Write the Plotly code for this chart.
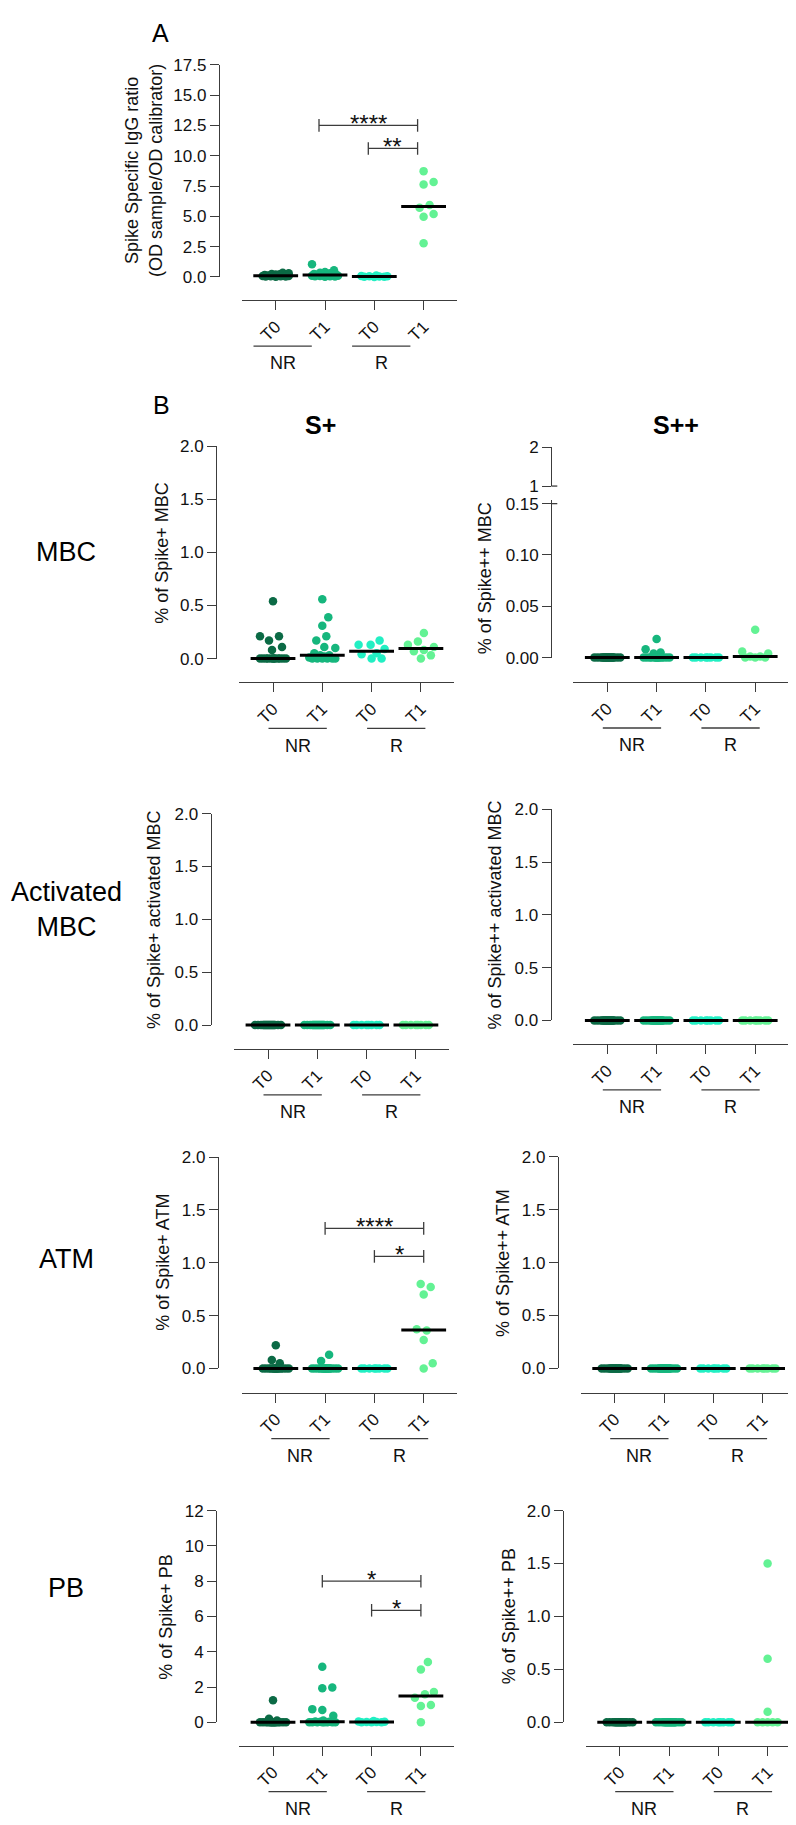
import numpy as np
import plotly.graph_objects as go

# ---------------------------------------------------------------- data
group_names = ["NR T0", "NR T1", "R T0", "R T1"]
x_tick_labels = ["T0", "T1", "T0", "T1"]
cohort_labels = ["NR", "R"]
row_labels = ["MBC", "Activated<br>MBC", "ATM", "PB"]
column_titles = ["S+", "S++"]

# Panel A : Spike specific IgG ratio
igg_nr_t0 = [0.35, 0.30, 0.25, 0.22, 0.20, 0.17, 0.15, 0.12, 0.10, 0.10, 0.09, 0.08, 0.07, 0.05, 0.05, 0.04, 0.03, 0.02]
igg_nr_t1 = [1.05, 0.55, 0.40, 0.35, 0.30, 0.25, 0.20, 0.18, 0.16, 0.15, 0.12, 0.10, 0.10, 0.08, 0.05, 0.05, 0.03, 0.02]
igg_r_t0 = [0.12, 0.08, 0.06, 0.05, 0.03, 0.02, 0.01, 0.00]
igg_r_t1 = [8.73, 7.84, 7.62, 5.93, 5.71, 5.20, 4.96, 2.78]
igg_sig = [(1, 3, 12.5, "****"), (2, 3, 10.6, "**")]

# MBC
mbc_sp_nr_t0 = [0.54, 0.21, 0.21, 0.17, 0.11, 0.08, 0, 0, 0, 0, 0, 0, 0, 0, 0, 0, 0, 0]
mbc_sp_nr_t1 = [0.56, 0.39, 0.31, 0.21, 0.17, 0.11, 0.10, 0.05, 0.03, 0.03, 0.02, 0.01, 0, 0, 0, 0, 0, 0]
mbc_sp_r_t0 = [0.17, 0.13, 0.13, 0.09, 0.05, 0.04, 0.00, 0.00]
mbc_sp_r_t1 = [0.24, 0.16, 0.13, 0.11, 0.08, 0.07, 0.03, 0.00]

mbc_spp_nr_t0 = [0, 0, 0, 0, 0, 0, 0, 0, 0, 0, 0, 0, 0, 0, 0, 0, 0, 0]
mbc_spp_nr_t1 = [0.018, 0.008, 0.005, 0.004, 0, 0, 0, 0, 0, 0, 0, 0, 0, 0, 0, 0, 0, 0]
mbc_spp_r_t0 = [0, 0, 0, 0, 0, 0, 0, 0]
mbc_spp_r_t1 = [0.027, 0.006, 0.004, 0.001, 0.001, 0, 0, 0]

# Activated MBC
act_sp_nr_t0 = [0, 0, 0, 0, 0, 0, 0, 0, 0, 0, 0, 0, 0, 0, 0, 0, 0, 0]
act_sp_nr_t1 = [0, 0, 0, 0, 0, 0, 0, 0, 0, 0, 0, 0, 0, 0, 0, 0, 0, 0]
act_sp_r_t0 = [0, 0, 0, 0, 0, 0, 0, 0]
act_sp_r_t1 = [0, 0, 0, 0, 0, 0, 0, 0]
act_spp_nr_t0 = [0, 0, 0, 0, 0, 0, 0, 0, 0, 0, 0, 0, 0, 0, 0, 0, 0, 0]
act_spp_nr_t1 = [0, 0, 0, 0, 0, 0, 0, 0, 0, 0, 0, 0, 0, 0, 0, 0, 0, 0]
act_spp_r_t0 = [0, 0, 0, 0, 0, 0, 0, 0]
act_spp_r_t1 = [0, 0, 0, 0, 0, 0, 0, 0]

# ATM
atm_sp_nr_t0 = [0.22, 0.08, 0.05, 0, 0, 0, 0, 0, 0, 0, 0, 0, 0, 0, 0, 0, 0, 0]
atm_sp_nr_t1 = [0.13, 0.07, 0, 0, 0, 0, 0, 0, 0, 0, 0, 0, 0, 0, 0, 0, 0, 0]
atm_sp_r_t0 = [0, 0, 0, 0, 0, 0, 0, 0]
atm_sp_r_t1 = [0.80, 0.77, 0.70, 0.37, 0.36, 0.27, 0.05, 0.00]
atm_sig = [(1, 3, 1.325, "****"), (2, 3, 1.06, "*")]
atm_spp_nr_t0 = [0, 0, 0, 0, 0, 0, 0, 0, 0, 0, 0, 0, 0, 0, 0, 0, 0, 0]
atm_spp_nr_t1 = [0, 0, 0, 0, 0, 0, 0, 0, 0, 0, 0, 0, 0, 0, 0, 0, 0, 0]
atm_spp_r_t0 = [0, 0, 0, 0, 0, 0, 0, 0]
atm_spp_r_t1 = [0, 0, 0, 0, 0, 0, 0, 0]

# PB
pb_sp_nr_t0 = [1.25, 0.20, 0.10, 0, 0, 0, 0, 0, 0, 0, 0, 0, 0, 0, 0, 0, 0, 0]
pb_sp_nr_t1 = [3.15, 1.97, 1.93, 0.75, 0.70, 0.37, 0.10, 0.05, 0.04, 0.03, 0, 0, 0, 0, 0, 0, 0, 0]
pb_sp_r_t0 = [0.08, 0.05, 0.03, 0.02, 0.02, 0.00, 0.00, 0.00]
pb_sp_r_t1 = [3.42, 2.99, 1.72, 1.59, 1.40, 0.99, 0.93, 0.00]
pb_sig = [(1, 3, 8.0, "*"), (2, 3, 6.35, "*")]
pb_spp_nr_t0 = [0, 0, 0, 0, 0, 0, 0, 0, 0, 0, 0, 0, 0, 0, 0, 0, 0, 0]
pb_spp_nr_t1 = [0, 0, 0, 0, 0, 0, 0, 0, 0, 0, 0, 0, 0, 0, 0, 0, 0, 0]
pb_spp_r_t0 = [0, 0, 0, 0, 0, 0, 0, 0]
pb_spp_r_t1 = [1.50, 0.60, 0.10, 0, 0, 0, 0, 0]

# y tick values / labels
ticks_igg = [0, 2.5, 5, 7.5, 10, 12.5, 15, 17.5]
ticks_igg_text = ["0.0", "2.5", "5.0", "7.5", "10.0", "12.5", "15.0", "17.5"]
ticks_pct = [0, 0.5, 1.0, 1.5, 2.0]
ticks_pct_text = ["0.0", "0.5", "1.0", "1.5", "2.0"]
ticks_pb = [0, 2, 4, 6, 8, 10, 12]
ticks_pb_text = ["0", "2", "4", "6", "8", "10", "12"]
ticks_spp_low = [0, 0.05, 0.10, 0.15]
ticks_spp_low_text = ["0.00", "0.05", "0.10", "0.15"]
ticks_spp_high = [1, 2]
ticks_spp_high_text = ["1", "2"]

# ---------------------------------------------------------------- style
W, H = 796, 1825
FONT = "Liberation Sans, Arial, Helvetica, sans-serif"
AX = "#3c3c3c"
TXT = "#111111"
colors = ["#0b6a45", "#16b67d", "#22efc3", "#63f294"]
DOT = 8.5
CAT_PX = 49.3
X_LEFT_PX, X_RIGHT_PX = 34, 33
x_range = [-X_LEFT_PX / CAT_PX, 3 + X_RIGHT_PX / CAT_PX]

panels = [
    dict(data=[igg_nr_t0, igg_nr_t1, igg_r_t0, igg_r_t1], yax=211, y0=262.7, ytop=48.3, rng=17.5,
         tv=ticks_igg, tt=ticks_igg_text, tick0=267.7, xline=286,
         title="Spike Specific IgG ratio<br>(OD sample/OD calibrator)", tdx=75,
         grp_shift=-17.7, sig=igg_sig, sig_shift=-6),
    dict(data=[mbc_sp_nr_t0, mbc_sp_nr_t1, mbc_sp_r_t0, mbc_sp_r_t1], yax=208.3, y0=648.3, ytop=434, rng=2,
         tv=ticks_pct, tt=ticks_pct_text, tick0=265, xline=672.3,
         title="% of Spike+ MBC", tdx=55),
    dict(data=[mbc_spp_nr_t0, mbc_spp_nr_t1, mbc_spp_r_t0, mbc_spp_r_t1], yax=543.3, y0=647.3, ytop=487.6, rng=0.154,
         tv=ticks_spp_low, tt=ticks_spp_low_text, tick0=599.3, xline=672,
         title="% of Spike++ MBC", tdx=66.6,
         upper=dict(y0=474, ytop=435, r=[1, 2], tv=ticks_spp_high, tt=ticks_spp_high_text)),
    dict(data=[act_sp_nr_t0, act_sp_nr_t1, act_sp_r_t0, act_sp_r_t1], yax=202.7, y0=1018.7, ytop=805, rng=2,
         tv=ticks_pct, tt=ticks_pct_text, tick0=260, xline=1042.7,
         title="% of Spike+ activated MBC", tdx=56),
    dict(data=[act_spp_nr_t0, act_spp_nr_t1, act_spp_r_t0, act_spp_r_t1], yax=542.7, y0=1014, ytop=800.7, rng=2,
         tv=ticks_pct, tt=ticks_pct_text, tick0=599.3, xline=1037.7,
         title="% of Spike++ activated MBC", tdx=56),
    dict(data=[atm_sp_nr_t0, atm_sp_nr_t1, atm_sp_r_t0, atm_sp_r_t1], yax=210, y0=1365.7, ytop=1152, rng=2,
         tv=ticks_pct, tt=ticks_pct_text, tick0=267.8, xline=1390,
         title="% of Spike+ ATM", tdx=55, sig=atm_sig),
    dict(data=[atm_spp_nr_t0, atm_spp_nr_t1, atm_spp_r_t0, atm_spp_r_t1], yax=550, y0=1365.7, ytop=1151.7, rng=2,
         tv=ticks_pct, tt=ticks_pct_text, tick0=606.7, xline=1390,
         title="% of Spike++ ATM", tdx=55.7),
    dict(data=[pb_sp_nr_t0, pb_sp_nr_t1, pb_sp_r_t0, pb_sp_r_t1], yax=208.3, y0=1723.3, ytop=1509.3, rng=12,
         tv=ticks_pb, tt=ticks_pb_text, tick0=265, xline=1746.7,
         title="% of Spike+ PB", tdx=50, sig=pb_sig),
    dict(data=[pb_spp_nr_t0, pb_spp_nr_t1, pb_spp_r_t0, pb_spp_r_t1], yax=555, y0=1723.3, ytop=1509.3, rng=2,
         tv=ticks_pct, tt=ticks_pct_text, tick0=611.7, xline=1746.7,
         title="% of Spike++ PB", tdx=53.3),
]

row_label_pos = [(58, 541), (58, 902), (58, 1255), (58, 1588)]
col_title_pos = [(312, 412), (668, 412)]
panel_letters = [("A", 152, 16), ("B", 153, 392)]


def beeswarm(values, px_per_unit, dot=10.0, half_width=13.0):
    vals = np.asarray(values, dtype=float)
    order = np.argsort(vals, kind="stable")
    cands = [0.0]
    for k in range(1, int(half_width) + 1):
        cands += [float(k), float(-k)]
    placed = []
    xs = np.zeros(len(vals))
    for idx in order:
        y = vals[idx] * px_per_unit
        best = None
        for c in cands:
            if all((c - px) ** 2 + (y - py) ** 2 >= dot ** 2 for px, py in placed):
                best = c
                break
        if best is None:
            bestd = -1.0
            for c in cands:
                d = min((c - px) ** 2 + (y - py) ** 2 for px, py in placed)
                if d > bestd + 1e-9:
                    bestd, best = d, c
        placed.append((best, y))
        xs[idx] = best
    return xs / CAT_PX


def px_x(v):
    return v / W


def px_y(v):
    return 1 - v / H


fig = go.Figure()
layout_axes = {}
annotations = []
shapes = []
axis_common = dict(showgrid=False, zeroline=False, showline=True, linecolor=AX, linewidth=1.3,
                   ticks="outside", ticklen=9, tickwidth=1.3, tickcolor=AX,
                   tickfont=dict(family=FONT, size=17, color=TXT), fixedrange=True)
extra_y = len(panels) + 1

for n, p in enumerate(panels, start=1):
    s = "" if n == 1 else str(n)
    xref, yref = "x" + s, "y" + s
    x_dom = [px_x(p["tick0"] - X_LEFT_PX), px_x(p["tick0"] + 3 * CAT_PX + X_RIGHT_PX)]
    layout_axes["xaxis" + s] = dict(axis_common, domain=x_dom, range=x_range, anchor="free",
                                    position=px_y(p["xline"]), tickvals=[0, 1, 2, 3],
                                    ticktext=x_tick_labels, tickangle=-45)
    layout_axes["yaxis" + s] = dict(axis_common, domain=[px_y(p["y0"]), px_y(p["ytop"])],
                                    range=[0, p["rng"]], anchor="free", position=px_x(p["yax"]),
                                    tickvals=p["tv"], ticktext=p["tt"])
    ppu = (p["y0"] - p["ytop"]) / p["rng"]
    for g, vals in enumerate(p["data"]):
        off = beeswarm(vals, ppu)
        fig.add_trace(go.Scatter(x=g + off, y=vals, mode="markers", xaxis=xref, yaxis=yref,
                                 marker=dict(size=DOT, color=colors[g], line=dict(width=0)),
                                 cliponaxis=False, hoverinfo="skip", name=group_names[g]))
    medians = [float(np.median(v)) for v in p["data"]]
    fig.add_trace(go.Scatter(x=[0, 1, 2, 3], y=medians, mode="markers", xaxis=xref, yaxis=yref,
                             marker=dict(symbol="line-ew", size=32, color="black",
                                         line=dict(width=3, color="black")),
                             cliponaxis=False, hoverinfo="skip"))
    # significance bars
    sh = p.get("sig_shift", 0) / CAT_PX
    for a, b, yv, txt in p.get("sig", []):
        fig.add_trace(go.Scatter(x=[a + sh, b + sh], y=[yv, yv], mode="lines+markers",
                                 xaxis=xref, yaxis=yref, line=dict(color=AX, width=1.3),
                                 marker=dict(symbol="line-ns", size=9, color=AX,
                                             line=dict(color=AX, width=1.3)),
                                 cliponaxis=False, hoverinfo="skip"))
        annotations.append(dict(x=(a + b) / 2 + sh, y=yv, xref=xref, yref=yref, text=txt,
                                showarrow=False, yanchor="middle", xanchor="center", yshift=2,
                                font=dict(family=FONT, size=24, color=TXT)))
    # cohort underlines and labels
    gs = p.get("grp_shift", 0) / CAT_PX
    for k, lab in enumerate(cohort_labels):
        c0 = 2 * k
        shapes.append(dict(type="line", xref=xref, yref="paper",
                           x0=c0 - 4.5 / CAT_PX + gs, x1=c0 + 1 + 4.5 / CAT_PX + gs,
                           y0=px_y(p["xline"] + 46.5), y1=px_y(p["xline"] + 46.5),
                           line=dict(color=AX, width=1.3)))
        annotations.append(dict(x=c0 + 0.5 + gs, y=px_y(p["xline"] + 64), xref=xref, yref="paper",
                                text=lab, showarrow=False, xanchor="center", yanchor="middle",
                                font=dict(family=FONT, size=18, color=TXT)))
    # y axis title
    ymid = (p["y0"] + p["ytop"]) / 2
    annotations.append(dict(x=px_x(p["yax"] - p["tdx"]), y=px_y(ymid), xref="paper", yref="paper",
                            text=p["title"], textangle=-90, showarrow=False,
                            xanchor="center", yanchor="middle",
                            font=dict(family=FONT, size=18, color=TXT)))
    # broken axis upper part
    if "upper" in p:
        u = p["upper"]
        ys = str(extra_y)
        layout_axes["yaxis" + ys] = dict(axis_common, domain=[px_y(u["y0"]), px_y(u["ytop"])],
                                         range=u["r"], anchor="free", position=px_x(p["yax"]),
                                         tickvals=u["tv"], ticktext=u["tt"])
        fig.add_trace(go.Scatter(x=[1.5], y=[1.5], mode="markers", xaxis=xref, yaxis="y" + ys,
                                 marker=dict(size=1, opacity=0), hoverinfo="skip"))
        for ypx in (u["y0"], p["y0"] - ticks_spp_low[-1] * ppu):
            shapes.append(dict(type="line", xref="paper", yref="paper",
                               x0=px_x(p["yax"]), x1=px_x(p["yax"] + 6),
                               y0=px_y(ypx), y1=px_y(ypx), line=dict(color=AX, width=1.3)))

for (lab, (xp, yp)) in zip(row_labels, row_label_pos):
    annotations.append(dict(x=px_x(xp), y=px_y(yp), xref="paper", yref="paper", text=lab,
                            showarrow=False, xanchor="center", yanchor="middle",
                            font=dict(family=FONT, size=27, color="black")))
for (lab, (xp, yp)) in zip(column_titles, col_title_pos):
    annotations.append(dict(x=px_x(xp), y=px_y(yp), xref="paper", yref="paper",
                            text="<b>" + lab + "</b>", showarrow=False, xanchor="center",
                            yanchor="middle", font=dict(family=FONT, size=25, color="black")))
for lab, xp, yp in panel_letters:
    annotations.append(dict(x=px_x(xp), y=px_y(yp), xref="paper", yref="paper", text=lab,
                            showarrow=False, xanchor="center", yanchor="middle",
                            font=dict(family=FONT, size=25, color="black")))

fig.update_layout(width=W, height=H, margin=dict(l=0, r=0, t=0, b=0), showlegend=False,
                  paper_bgcolor="white", plot_bgcolor="white",
                  font=dict(family=FONT, color=TXT),
                  annotations=annotations, shapes=shapes, **layout_axes)

fig.write_html("out.html")
